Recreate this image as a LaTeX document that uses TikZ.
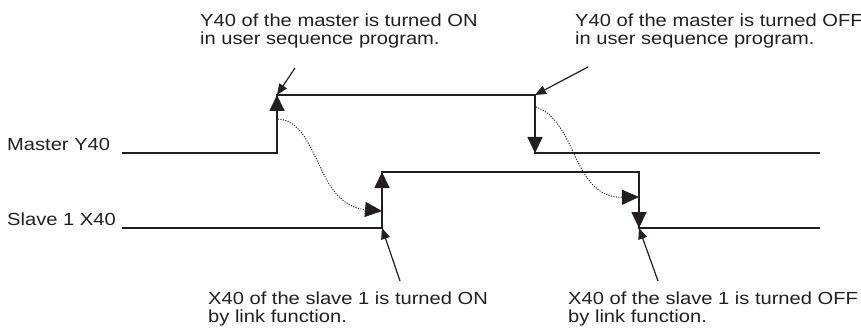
\documentclass[tikz,border=0pt]{standalone}
\usepackage{fontspec}
\setmainfont{Liberation Sans}[FakeStretch=1.15]
\usetikzlibrary{arrows.meta}
\definecolor{ink}{HTML}{231F20}
\begin{document}
\begin{tikzpicture}[x=1pt,y=-1pt,
  font=\fontsize{17.5}{18}\selectfont,
  sig/.style={draw=ink, line width=1.8pt},
  sigtip/.style={draw=ink, line width=1.8pt, -{Triangle[length=16pt,width=15pt]}},
  ann/.style={draw=ink, line width=1.2pt, -{Triangle[length=11pt,width=9pt]}},
  dots/.style={draw=ink, line width=1pt, dash pattern=on 1pt off 1.5pt, -{Triangle[length=17pt,width=15pt]}},
  lab/.style={text=ink, inner sep=0pt, align=left}]
\useasboundingbox (0,0) rectangle (861,331);

% master signal corners
\coordinate (m0) at (122,153);
\coordinate (m1) at (277,153);
\coordinate (m2) at (277,95);
\coordinate (m3) at (535,95);
\coordinate (m4) at (535,153);
\coordinate (m5) at (820,153);
% slave signal corners
\coordinate (s0) at (122,228);
\coordinate (s1) at (382,228);
\coordinate (s2) at (382,172);
\coordinate (s3) at (639,172);
\coordinate (s4) at (639,228);
\coordinate (s5) at (820,228);

% labels
\node[lab, anchor=base west] (mlab) at (7,150.7) {Master Y40};
\node[lab, anchor=base west] (slab) at (7,225) {Slave 1 X40};
\node[lab, anchor=north west] (tl) at (200,14) {Y40 of the master is turned ON\\in user sequence program.};
\node[lab, anchor=north west] (tr) at (575,14) {Y40 of the master is turned OFF\\in user sequence program.};
\node[lab, anchor=north west] (bl) at (208,292) {X40 of the slave 1 is turned ON\\by link function.};
\node[lab, anchor=north west] (br) at (568,292) {X40 of the slave 1 is turned OFF\\by link function.};

% signals
\draw[sig] (m0) -- (m1) -- (m2) -- (m3) -- (m4) -- (m5);
\draw[sigtip] (m1) -- (m2);
\draw[sigtip] (m3) -- (m4);
\draw[sig] (s0) -- (s1) -- (s2) -- (s3) -- (s4) -- (s5);
\draw[sigtip] (s1) -- (s2);
\draw[sigtip] (s3) -- (s4);

% annotation arrows
\coordinate (a1) at (295,68);
\coordinate (a2) at (588,67);
\coordinate (a3) at (400,281);
\coordinate (a4) at (658,281);
\draw[ann] (a1) -- (m2);
\draw[ann] (a2) -- (m3);
\draw[ann] (a3) -- (s1);
\draw[ann] (a4) -- (s4);

% dotted propagation arrows
\coordinate (d1s) at (278,119);
\coordinate (d1e) at (382,211);
\coordinate (d2s) at (536,107);
\coordinate (d2e) at (639,197);
\draw[dots] (d1s) .. controls (320,122) and (315,205) .. (d1e);
\draw[dots] (d2s) .. controls (578,122) and (572,198) .. (d2e);
\end{tikzpicture}
\end{document}
